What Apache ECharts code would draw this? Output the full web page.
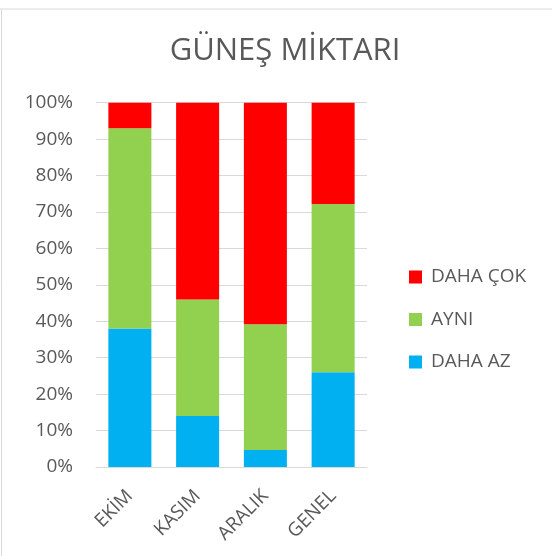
<!DOCTYPE html>
<html><head><meta charset="utf-8">
<script src="https://cdn.jsdelivr.net/npm/echarts@6/dist/echarts.min.js"></script>
<style>html,body{margin:0;padding:0;background:#fff}#c{width:552px;height:556px}</style>
</head><body><div id="c"></div>
<script>
const categories = ['EKİM', 'KASIM', 'ARALIK', 'GENEL'];
const dahaAz = [38, 14, 4.7, 26];
const ayni = [55, 32, 34.5, 46.2];
const dahaCok = [7, 54, 60.8, 27.8];
const yTicks = [0, 10, 20, 30, 40, 50, 60, 70, 80, 90, 100];

const FONT = '"Open Sans", "Noto Sans", sans-serif';
const TXT = '#595959';
const chart = echarts.init(document.getElementById('c'));
chart.setOption({
  animation: false,
  backgroundColor: '#fff',
  title: {
    text: 'GÜNEŞ MİKTARI', left: 280, top: 31, textAlign: 'center',
    textStyle: { fontFamily: FONT, fontSize: 31, fontWeight: 'normal', color: TXT }
  },
  legend: {
    orient: 'vertical', left: 409, top: 267, itemGap: 22.5, padding: 0,
    itemWidth: 13, itemHeight: 13, icon: 'rect',
    data: ['DAHA ÇOK', 'AYNI', 'DAHA AZ'],
    textStyle: { fontFamily: FONT, fontSize: 19, lineHeight: 20, color: TXT, padding: [0, 0, 0, 4] }
  },
  grid: { left: 96, top: 102.7, width: 271, height: 364.3 },
  xAxis: {
    type: 'category', data: categories,
    axisLine: { lineStyle: { color: '#d9d9d9' } },
    axisTick: { show: false },
    axisLabel: { rotate: 45, fontFamily: FONT, fontSize: 19, color: TXT, margin: 26 }
  },
  yAxis: {
    type: 'value', min: 0, max: 100, interval: 10,
    axisLine: { show: false }, axisTick: { show: false },
    splitLine: { lineStyle: { color: '#d9d9d9' } },
    axisLabel: { fontFamily: FONT, fontSize: 19, color: TXT, margin: 23,
      formatter: v => yTicks.includes(v) ? v + '%' : '' }
  },
  graphic: [
    { type: 'line', shape: { x1: 0, y1: 9, x2: 552, y2: 9 }, style: { stroke: '#d9d9d9', lineWidth: 1 } },
    { type: 'line', shape: { x1: 1.5, y1: 9, x2: 1.5, y2: 556 }, style: { stroke: '#d9d9d9', lineWidth: 1 } }
  ],
  series: [
    { name: 'DAHA AZ', type: 'bar', stack: 's', data: dahaAz, barWidth: '63.5%', itemStyle: { color: '#00b0f0' } },
    { name: 'AYNI', type: 'bar', stack: 's', data: ayni, itemStyle: { color: '#92d050' } },
    { name: 'DAHA ÇOK', type: 'bar', stack: 's', data: dahaCok, itemStyle: { color: '#ff0000' } }
  ]
});
</script></body></html>
